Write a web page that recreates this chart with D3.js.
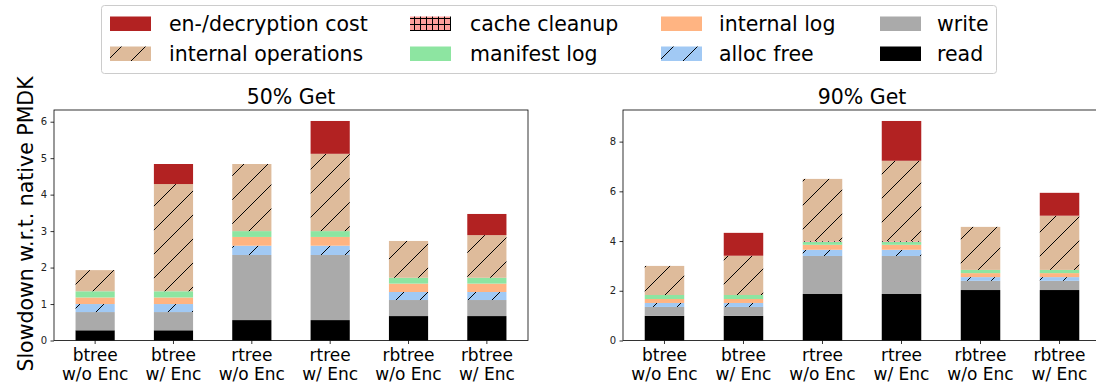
<!DOCTYPE html>
<html>
<head>
<meta charset="utf-8">
<script src="https://cdn.jsdelivr.net/npm/d3@7"></script>
<style>
  html, body { margin: 0; padding: 0; background: #fff; }
  svg { display: block; font-family: "DejaVu Sans", sans-serif; }
</style>
</head>
<body>
<svg id="chart" width="1096" height="387"></svg>
<script>
// Workload configurations on the x axis (two-line labels)
const categories = [
  ["btree", "w/o Enc"], ["btree", "w/ Enc"],
  ["rtree", "w/o Enc"], ["rtree", "w/ Enc"],
  ["rbtree", "w/o Enc"], ["rbtree", "w/ Enc"]
];

// Cost components, stacked bottom to top
const seriesKeys = ["read", "write", "alloc free", "internal log", "manifest log",
                    "cache cleanup", "internal operations", "en-/decryption cost"];

// 50% Get workload (slowdown relative to native PMDK)
const read50     = [0.28, 0.28, 0.56, 0.56, 0.67, 0.67];
const write50    = [0.50, 0.50, 1.785, 1.785, 0.44, 0.44];
const alloc50    = [0.22, 0.22, 0.255, 0.255, 0.22, 0.22];
const intLog50   = [0.18, 0.18, 0.24, 0.24, 0.23, 0.23];
const manifest50 = [0.17, 0.17, 0.16, 0.16, 0.16, 0.16];
const cache50    = [0, 0, 0, 0, 0, 0];
const intOps50   = [0.58, 2.94, 1.84, 2.12, 1.01, 1.17];
const enc50      = [0, 0.55, 0, 0.90, 0, 0.58];

// 90% Get workload
const read90     = [0.99, 0.99, 1.87, 1.87, 2.03, 2.03];
const write90    = [0.36, 0.36, 1.53, 1.53, 0.37, 0.37];
const alloc90    = [0.16, 0.16, 0.25, 0.25, 0.15, 0.15];
const intLog90   = [0.16, 0.16, 0.20, 0.20, 0.16, 0.16];
const manifest90 = [0.16, 0.16, 0.12, 0.12, 0.13, 0.13];
const cache90    = [0, 0, 0.03, 0.03, 0, 0];
const intOps90   = [1.17, 1.58, 2.50, 3.23, 1.73, 2.18];
const enc90      = [0, 0.92, 0, 1.60, 0, 0.92];

// Axis ticks
const yTicks50 = [0, 1, 2, 3, 4, 5, 6];
const yTicks90 = [0, 2, 4, 6, 8];

// Legend order (column-major, 2 rows x 4 columns)
const legendOrder = ["en-/decryption cost", "internal operations", "cache cleanup", "manifest log",
                     "internal log", "alloc free", "write", "read"];

const svg = d3.select("#chart");
const defs = svg.append("defs");

// Diagonal "/" hatch patterns
function diagPattern(id, bg) {
  const p = defs.append("pattern").attr("id", id)
    .attr("patternUnits", "userSpaceOnUse").attr("width", 24).attr("height", 24);
  p.append("rect").attr("width", 24).attr("height", 24).attr("fill", bg);
  p.append("path").attr("d", "M-6,6 L6,-6 M0,24 L24,0 M18,30 L30,18")
    .attr("stroke", "#000").attr("stroke-width", 1).attr("fill", "none");
}
diagPattern("hatch-ops", "#debb9b");
diagPattern("hatch-alloc", "#a1c9f4");

// Grid "+" hatch for cache cleanup
const grid = defs.append("pattern").attr("id", "hatch-cache")
  .attr("patternUnits", "userSpaceOnUse").attr("width", 6).attr("height", 6);
grid.append("rect").attr("width", 6).attr("height", 6).attr("fill", "#ff9f9b");
grid.append("path").attr("d", "M0.5,0 V6 M0,0.5 H6")
  .attr("stroke", "#000").attr("stroke-width", 1).attr("fill", "none");

const fills = {
  "read": "#000000",
  "write": "#aaaaaa",
  "alloc free": "url(#hatch-alloc)",
  "internal log": "#ffb482",
  "manifest log": "#8de5a1",
  "cache cleanup": "url(#hatch-cache)",
  "internal operations": "url(#hatch-ops)",
  "en-/decryption cost": "#b22222"
};

function buildRows(read, write, alloc, intLog, manifest, cache, intOps, enc) {
  return categories.map((c, i) => ({
    "read": read[i], "write": write[i], "alloc free": alloc[i],
    "internal log": intLog[i], "manifest log": manifest[i], "cache cleanup": cache[i],
    "internal operations": intOps[i], "en-/decryption cost": enc[i]
  }));
}

const panels = [
  { title: "50% Get", x0: 54, x1: 528, yTicks: yTicks50,
    rows: buildRows(read50, write50, alloc50, intLog50, manifest50, cache50, intOps50, enc50) },
  { title: "90% Get", x0: 623, x1: 1101, yTicks: yTicks90,
    rows: buildRows(read90, write90, alloc90, intLog90, manifest90, cache90, intOps90, enc90) }
];

const plotTop = 110, plotBottom = 340.5, barWidth = 0.5;

panels.forEach(panel => {
  const g = svg.append("g");
  const x = d3.scaleLinear().domain([-0.525, categories.length - 1 + 0.525]).range([panel.x0, panel.x1]);
  const stacked = d3.stack().keys(seriesKeys)(panel.rows);
  const maxTotal = d3.max(stacked[stacked.length - 1], d => d[1]);
  const y = d3.scaleLinear().domain([0, maxTotal * 1.05]).range([plotBottom, plotTop]);

  // bars
  stacked.forEach(layer => {
    g.append("g").selectAll("rect")
      .data(layer)
      .join("rect")
      .attr("x", (d, i) => x(i - barWidth / 2))
      .attr("width", (d, i) => x(i + barWidth / 2) - x(i - barWidth / 2))
      .attr("y", d => y(d[1]))
      .attr("height", d => Math.max(0, y(d[0]) - y(d[1])))
      .attr("fill", fills[layer.key]);
  });

  // frame
  g.append("rect")
    .attr("x", panel.x0).attr("y", plotTop)
    .attr("width", panel.x1 - panel.x0).attr("height", plotBottom - plotTop)
    .attr("fill", "none").attr("stroke", "#000").attr("stroke-width", 0.8);

  // y axis
  const yAxis = d3.axisLeft(y).tickValues(panel.yTicks).tickSize(3.5).tickPadding(3.5)
    .tickFormat(d3.format("d"));
  const ya = g.append("g").attr("transform", `translate(${panel.x0},0)`).call(yAxis);
  ya.select(".domain").remove();
  ya.selectAll(".tick line").attr("stroke", "#000").attr("stroke-width", 0.8);
  ya.selectAll(".tick text").attr("font-size", 10).attr("fill", "#222")
    .attr("font-family", "DejaVu Sans, sans-serif");

  // x axis with two-line labels
  const xa = g.append("g");
  categories.forEach((c, i) => {
    xa.append("line").attr("x1", x(i)).attr("x2", x(i))
      .attr("y1", plotBottom).attr("y2", plotBottom + 3.5)
      .attr("stroke", "#000").attr("stroke-width", 0.8);
    const t = xa.append("text").attr("text-anchor", "middle")
      .attr("font-size", 17).attr("fill", "#000");
    t.append("tspan").attr("x", x(i)).attr("y", 361).text(c[0]);
    t.append("tspan").attr("x", x(i)).attr("y", 380).text(c[1]);
  });

  // title
  g.append("text").attr("x", (panel.x0 + panel.x1) / 2).attr("y", 104)
    .attr("text-anchor", "middle").attr("font-size", 20.5).attr("fill", "#000")
    .text(panel.title);
});

// y axis label
svg.append("text")
  .attr("transform", "translate(33,224) rotate(-90)")
  .attr("text-anchor", "middle").attr("font-size", 20.5).attr("fill", "#000")
  .text("Slowdown w.r.t. native PMDK");

// legend
const lg = svg.append("g");
lg.append("rect").attr("x", 101.5).attr("y", 5.5).attr("width", 895).attr("height", 68)
  .attr("rx", 3).attr("fill", "#fff").attr("fill-opacity", 0.8)
  .attr("stroke", "#cccccc").attr("stroke-width", 1);

const colHandleX = [110, 410, 661, 880];
const colTextX = [169, 470, 719, 937];
const rowPatchY = [16.5, 46.5];
const rowBaseline = [30.5, 60.5];

legendOrder.forEach((key, k) => {
  const col = Math.floor(k / 2), row = k % 2;
  lg.append("rect").attr("x", colHandleX[col]).attr("y", rowPatchY[row])
    .attr("width", 41).attr("height", 14.5).attr("fill", fills[key]);
  lg.append("text").attr("x", colTextX[col]).attr("y", rowBaseline[row])
    .attr("font-size", 20.5).attr("fill", "#000").text(key);
});
</script>
</body>
</html>
